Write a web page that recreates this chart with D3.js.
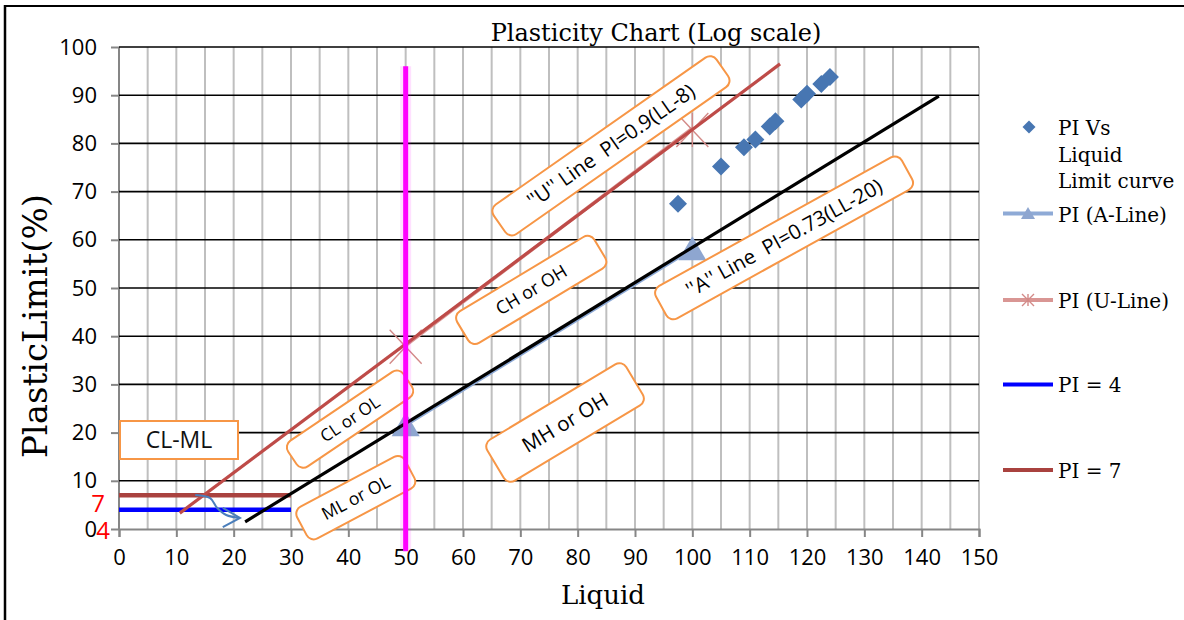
<!DOCTYPE html>
<html>
<head>
<meta charset="utf-8">
<script src="https://cdn.jsdelivr.net/npm/d3@7"></script>
<style>
  body { margin: 0; background: #fff; }
  svg { display: block; }
  .zone text { white-space: pre; }
</style>
</head>
<body>
<svg id="chart" width="1184" height="620"></svg>
<script>
// ---- data ----
// measured soil samples: liquid limit vs plasticity index
const liquidLimit = [97.5, 105, 109, 111, 113.5, 114.5, 119, 120, 122.5, 124];
const plasticityIndex = [67.5, 75.2, 79.2, 80.8, 83.5, 84.6, 89.1, 90.3, 92.3, 93.8];

// A-line and U-line reference points (LL = 50 and LL = 100)
const aLineLL = [50, 100];
const aLinePI = [21.9, 58.4];
const uLineLL = [50, 100];
const uLinePI = [37.8, 82.8];

// horizontal limits PI = 4 and PI = 7
const pi4LL = [0, 30];
const pi4PI = [4, 4];
const pi7LL = [0, 30];
const pi7PI = [7, 7];

// hand-drawn guide lines over the chart
const aGuideLL = [22, 143];
const aGuidePI = [1.5, 89.8];
const uGuideLL = [10.6, 115.3];
const uGuidePI = [3.3, 96.5];
const dividerLL = [50, 50];
const dividerPI = [96, -4.6];

// small curved arrow near the CL-ML band
const arrowLL = [13.3, 15.9, 17.1, 18.7, 21.1];
const arrowPI = [7.05, 6.4, 4.4, 2.9, 2.3];
const arrowHeadLL = [18.1, 21.1, 18.1];
const arrowHeadPI = [4.4, 2.3, 0.4];

const xTicks = d3.range(0, 151, 10);
const yTicks = d3.range(0, 101, 10);
const xGrid = d3.range(0, 151, 5);

const zoneLabels = ["''U'' Line  PI=0.9(LL-8)", "CH or OH", "''A'' Line  PI=0.73(LL-20)",
                    "CL or OL", "ML or OL", "MH or OH"];
const legendLabels = [["PI Vs", "Liquid", "Limit curve"], ["PI (A-Line)"], ["PI (U-Line)"], ["PI = 4"], ["PI = 7"]];

// ---- layout ----
const svg = d3.select("#chart");
const W = 1184, H = 620;
const SERIF = "'DejaVu Serif', serif";
const SANS = "'Open Sans', 'Noto Sans', sans-serif";

const x = d3.scaleLinear().domain([0, 150]).range([119, 979]);
const y = d3.scaleLinear().domain([0, 100]).range([529, 47]);

svg.append("rect").attr("width", W).attr("height", H).attr("fill", "#fff");

// chart frame
svg.append("line").attr("x1", 5).attr("x2", W).attr("y1", 6).attr("y2", 6)
  .attr("stroke", "#000").attr("stroke-width", 2);
svg.append("line").attr("x1", 5).attr("x2", 5).attr("y1", 5).attr("y2", H)
  .attr("stroke", "#000").attr("stroke-width", 2.5);

// vertical grid (every 5)
svg.append("g").selectAll("line").data(xGrid).join("line")
  .attr("x1", d => x(d)).attr("x2", d => x(d))
  .attr("y1", y(100)).attr("y2", y(0))
  .attr("stroke", d => d === 0 ? "#868686" : "#bfbfbf")
  .attr("stroke-width", 2);

// horizontal grid (every 10)
svg.append("g").selectAll("line").data(yTicks.filter(d => d > 0)).join("line")
  .attr("x1", x(0)).attr("x2", x(150))
  .attr("y1", d => y(d)).attr("y2", d => y(d))
  .attr("stroke", "#000").attr("stroke-width", 1.6);

// axes
const xAxis = d3.axisBottom(x).tickValues(xTicks).tickSize(8).tickPadding(12);
const gx = svg.append("g").attr("transform", `translate(0,${y(0)})`).call(xAxis);
gx.select(".domain").attr("stroke", "#868686").attr("stroke-width", 2);
gx.selectAll(".tick line").attr("stroke", "#868686").attr("stroke-width", 2);
gx.selectAll(".tick text").attr("font-family", SANS).attr("font-size", 22).attr("fill", "#000");

const yAxis = d3.axisLeft(y).tickValues(yTicks).tickSize(8).tickPadding(14);
const gy = svg.append("g").attr("transform", `translate(${x(0)},0)`).call(yAxis);
gy.select(".domain").remove();
gy.selectAll(".tick line").attr("stroke", "#868686").attr("stroke-width", 2);
gy.selectAll(".tick text").attr("font-family", SANS).attr("font-size", 22).attr("fill", "#000");

// red value notes for PI = 7 and PI = 4
svg.append("text").attr("x", 98).attr("y", y(7) + 17).attr("text-anchor", "middle")
  .attr("font-family", SANS).attr("font-size", 24).attr("fill", "#ff0000").text("7");
svg.append("text").attr("x", 103).attr("y", y(4) + 29).attr("text-anchor", "middle")
  .attr("font-family", SANS).attr("font-size", 24).attr("fill", "#ff0000").text("4");

// titles
svg.append("text").attr("x", 656).attr("y", 41).attr("text-anchor", "middle")
  .attr("font-family", SERIF).attr("font-size", 24).attr("fill", "#000")
  .text("Plasticity Chart (Log scale)");
svg.append("text").attr("x", 603).attr("y", 604).attr("text-anchor", "middle")
  .attr("font-family", SERIF).attr("font-size", 26).attr("fill", "#000").text("Liquid");
svg.append("text").attr("transform", "translate(47,326) rotate(-90)").attr("text-anchor", "middle")
  .attr("font-family", SERIF).attr("font-size", 34).attr("fill", "#000").text("PlasticLimit(%)");

const line = d3.line().x(d => x(d[0])).y(d => y(d[1]));
const zip = (a, b) => a.map((v, i) => [v, b[i]]);

// PI = 4 / PI = 7 series
svg.append("path").attr("d", line(zip(pi4LL, pi4PI))).attr("fill", "none")
  .attr("stroke", "#0000ff").attr("stroke-width", 4.5);
svg.append("path").attr("d", line(zip(pi7LL, pi7PI))).attr("fill", "none")
  .attr("stroke", "#a9423f").attr("stroke-width", 4.5);

// A-line series
const triPath = (w, h) => `M0,${-h * 0.55}L${w / 2},${h * 0.45}L${-w / 2},${h * 0.45}Z`;
svg.append("path").attr("d", line(zip(aLineLL, aLinePI))).attr("fill", "none")
  .attr("stroke", "#8eaad6").attr("stroke-width", 3.5).attr("transform", "translate(0,1.5)");
svg.append("g").selectAll("path").data(zip(aLineLL, aLinePI)).join("path")
  .attr("d", triPath(28, 24))
  .attr("transform", d => `translate(${x(d[0])},${y(d[1]) + 2})`)
  .attr("fill", "#8ea6d0");

// U-line series
const starPath = (w, h) => `M0,${-h / 2}V${h / 2}M${-w / 2},${-h / 2}L${w / 2},${h / 2}M${-w / 2},${h / 2}L${w / 2},${-h / 2}`;
svg.append("path").attr("d", line(zip(uLineLL, uLinePI))).attr("fill", "none")
  .attr("stroke", "#d99694").attr("stroke-width", 3.5).attr("transform", "translate(0,-1.5)");
svg.append("g").selectAll("path").data(zip(uLineLL, uLinePI)).join("path")
  .attr("d", starPath(32, 34))
  .attr("transform", d => `translate(${x(d[0])},${y(d[1])})`)
  .attr("fill", "none").attr("stroke", "#d38a88").attr("stroke-width", 1.4);

// PI vs Liquid Limit samples
const diamond = s => `M0,${-s / 2}L${s / 2},0L0,${s / 2}L${-s / 2},0Z`;
svg.append("g").selectAll("path").data(zip(liquidLimit, plasticityIndex)).join("path")
  .attr("d", diamond(18))
  .attr("transform", d => `translate(${x(d[0])},${y(d[1])})`)
  .attr("fill", "#4776b2");

// drawn guide lines
svg.append("path").attr("d", line(zip(aGuideLL, aGuidePI))).attr("fill", "none")
  .attr("stroke", "#000").attr("stroke-width", 3.2);
svg.append("path").attr("d", line(zip(uGuideLL, uGuidePI))).attr("fill", "none")
  .attr("stroke", "#be4b48").attr("stroke-width", 3.2);

// curved arrow
const curve = d3.line().x(d => x(d[0])).y(d => y(d[1])).curve(d3.curveCatmullRom);
svg.append("path").attr("d", curve(zip(arrowLL, arrowPI))).attr("fill", "none")
  .attr("stroke", "#4a7ebb").attr("stroke-width", 2);
svg.append("path").attr("d", line(zip(arrowHeadLL, arrowHeadPI))).attr("fill", "none")
  .attr("stroke", "#4a7ebb").attr("stroke-width", 2);

// zone label boxes
const zoneLayout = [
  { at: [85.8, 79.5], w: 272, h: 36, angle: -35, fs: 20.5 },
  { at: [71.9, 49.6], w: 160, h: 37, angle: -31, fs: 18 },
  { at: [116.0, 60.4], w: 281, h: 37, angle: -29, fs: 20.5 },
  { at: [40.3, 22.8], w: 139, h: 31, angle: -34, fs: 17 },
  { at: [41.3, 6.5], w: 122, h: 36, angle: -28, fs: 17.5 },
  { at: [77.8, 22.1], w: 162, h: 48, angle: -31, fs: 20.5 }
];
const zones = svg.append("g").attr("class", "zone").selectAll("g").data(zoneLabels).join("g")
  .attr("transform", (d, i) => {
    const L = zoneLayout[i];
    return `translate(${x(L.at[0])},${y(L.at[1])}) rotate(${L.angle})`;
  });
zones.append("rect")
  .attr("x", (d, i) => -zoneLayout[i].w / 2).attr("y", (d, i) => -zoneLayout[i].h / 2)
  .attr("width", (d, i) => zoneLayout[i].w).attr("height", (d, i) => zoneLayout[i].h)
  .attr("rx", 8).attr("ry", 8)
  .attr("fill", "#fff").attr("stroke", "#f79646").attr("stroke-width", 2);
zones.append("text")
  .attr("text-anchor", "middle").attr("dy", "0.35em")
  .attr("font-family", SANS).attr("font-size", (d, i) => zoneLayout[i].fs).attr("fill", "#000")
  .text(d => d);

// CL-ML box
svg.append("rect").attr("x", 120).attr("y", 421).attr("width", 118).attr("height", 38)
  .attr("fill", "#fff").attr("stroke", "#f79646").attr("stroke-width", 2);
svg.append("text").attr("x", 179).attr("y", 440).attr("dy", "0.36em").attr("text-anchor", "middle")
  .attr("font-family", SANS).attr("font-size", 23).attr("fill", "#111").text("CL-ML");

// LL = 50 divider
svg.append("path").attr("d", line(zip(dividerLL, dividerPI))).attr("fill", "none")
  .attr("stroke", "#ff00ff").attr("stroke-opacity", 0.12).attr("stroke-width", 11);
svg.append("path").attr("d", line(zip(dividerLL, dividerPI))).attr("fill", "none")
  .attr("stroke", "#ff00ff").attr("stroke-width", 5);

// ---- legend ----
const lg = svg.append("g").attr("font-family", SERIF).attr("font-size", 20).attr("fill", "#000");
const legendRows = [135, 221.5, 308, 392, 478];
const legendMarkY = [127, 213.5, 300, 384.5, 470];
legendLabels.forEach((lines, i) => {
  const t = lg.append("text").attr("x", 1058).attr("y", legendRows[i]);
  lines.forEach((s, j) => t.append("tspan").attr("x", 1058).attr("dy", j === 0 ? 0 : 26.5).text(s));
});
lg.append("path").attr("d", diamond(13)).attr("transform", `translate(1029,${legendMarkY[0]})`).attr("fill", "#4776b2");
lg.append("line").attr("x1", 1003).attr("x2", 1053).attr("y1", legendMarkY[1]).attr("y2", legendMarkY[1])
  .attr("stroke", "#8eaad6").attr("stroke-width", 4);
lg.append("path").attr("d", triPath(14, 12)).attr("transform", `translate(1028,${legendMarkY[1]})`).attr("fill", "#8ea6d0");
lg.append("line").attr("x1", 1003).attr("x2", 1053).attr("y1", legendMarkY[2]).attr("y2", legendMarkY[2])
  .attr("stroke", "#d99694").attr("stroke-width", 4);
lg.append("path").attr("d", starPath(12, 12)).attr("transform", `translate(1028,${legendMarkY[2]})`)
  .attr("fill", "none").attr("stroke", "#d38a88").attr("stroke-width", 1.4);
lg.append("line").attr("x1", 1003).attr("x2", 1053).attr("y1", legendMarkY[3]).attr("y2", legendMarkY[3])
  .attr("stroke", "#0000ff").attr("stroke-width", 4);
lg.append("line").attr("x1", 1003).attr("x2", 1053).attr("y1", legendMarkY[4]).attr("y2", legendMarkY[4])
  .attr("stroke", "#a9423f").attr("stroke-width", 4);
</script>
</body>
</html>
